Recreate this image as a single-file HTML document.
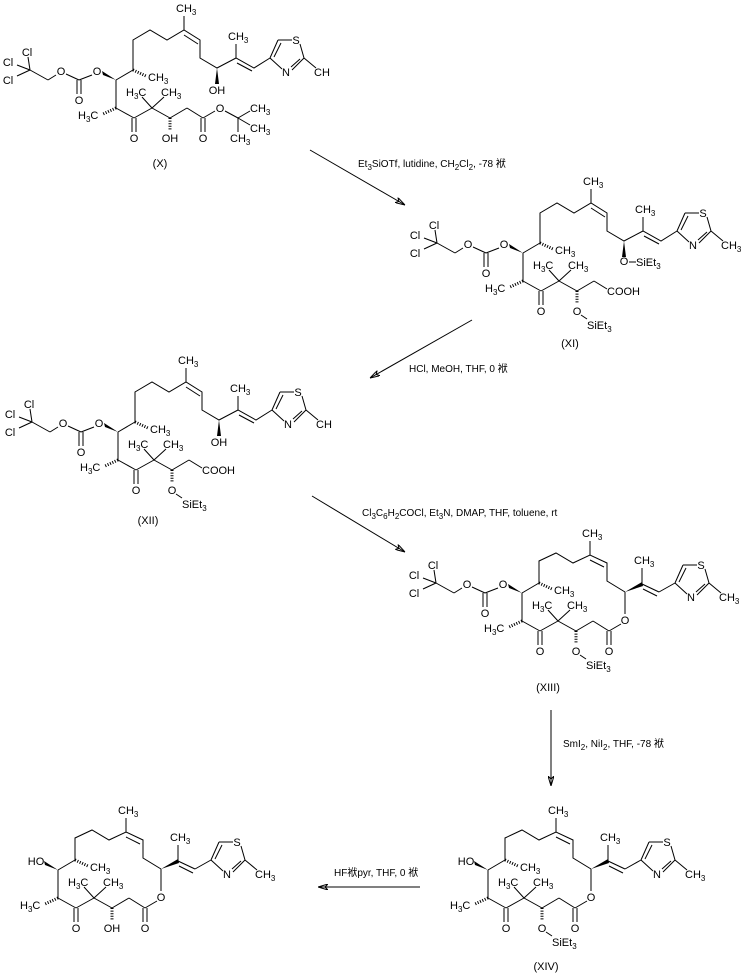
<!DOCTYPE html>
<html><head><meta charset="utf-8"><style>
html,body{margin:0;padding:0;background:#fff;}
svg{display:block;}
text{font-family:"Liberation Sans","Noto Sans CJK SC",sans-serif;font-size:11px;fill:#000;}
.s{font-size:8px;}
.r{font-size:10px;}
line,polyline,path{stroke:#000;stroke-width:1;fill:none;}
.w{fill:#000;stroke:none;}
.h{stroke-dasharray:1 1.6;stroke-width:3;}
</style></head><body>
<svg width="745" height="973" viewBox="0 0 745 973" xmlns="http://www.w3.org/2000/svg">
<defs>
<g id="thz">
 <line x1="0" y1="0" x2="8" y2="-18"/><line x1="4" y1="-1" x2="11" y2="-15"/>
 <line x1="8" y1="-18" x2="22" y2="-18"/>
 <line x1="30" y1="-14" x2="34" y2="0"/>
 <line x1="34" y1="0" x2="22" y2="12"/><line x1="30" y1="1" x2="21" y2="9"/>
 <line x1="12" y1="11" x2="0" y2="0"/>
 <line x1="34" y1="0" x2="46" y2="10"/>
</g>
<g id="lower">
 <line x1="0" y1="0" x2="0" y2="28"/><line x1="0" y1="28" x2="18" y2="38"/>
 <line x1="16" y1="38" x2="16" y2="52"/><line x1="20" y1="38" x2="20" y2="52"/>
 <line x1="18" y1="38" x2="36" y2="28"/><line x1="36" y1="28" x2="26" y2="17"/><line x1="36" y1="28" x2="48" y2="17"/>
 <line x1="36" y1="28" x2="54" y2="38"/><line x1="54" y1="38" x2="71" y2="28"/>
 <line class="h" x1="0" y1="28" x2="-13" y2="34"/>
 <line class="h" x1="54" y1="38" x2="54" y2="51"/>
 <line x1="0" y1="0" x2="17" y2="-10"/>
 <line class="h" x1="17" y1="-10" x2="30" y2="-4"/>
</g>
<g id="carb">
 <polygon class="w" points="0,0 -14,-9 -13,-5"/>
 <line x1="-24" y1="-5" x2="-37" y2="0"/>
 <line x1="-35" y1="0" x2="-35" y2="14"/><line x1="-39" y1="0" x2="-39" y2="14"/>
 <line x1="-37" y1="0" x2="-50" y2="-6"/>
 <line x1="-60" y1="-5" x2="-68" y2="0"/><line x1="-68" y1="0" x2="-86" y2="-10"/>
 <line x1="-86" y1="-10" x2="-88" y2="-23"/><line x1="-86" y1="-10" x2="-99" y2="-15"/><line x1="-86" y1="-10" x2="-99" y2="-4"/>
</g>
<g id="upopen">
 <polyline points="17,-10 17,-40 34,-50 51,-40 68,-50 84,-40 84,-22 101,-12 120,-22 138,-12 154,-22"/>
 <line x1="68" y1="-50" x2="68" y2="-64"/><line x1="68" y1="-45" x2="82" y2="-36"/>
 <line x1="120" y1="-22" x2="120" y2="-36"/><line x1="121" y1="-17" x2="136" y2="-9"/>
 <polygon class="w" points="101,-12 99,4 103,4"/>
 <use href="#thz" x="154" y="-22"/>
</g>
<g id="upmac">
 <polyline points="17,-10 17,-32 34,-40 51,-30 68,-38 85,-30 85,-12 103,-1"/>
 <line x1="68" y1="-38" x2="68" y2="-52"/><line x1="68" y1="-33" x2="82" y2="-26"/>
 <polygon class="w" points="103,-1 120,-11 121,-7"/>
 <line x1="120" y1="-9" x2="120" y2="-25"/>
 <line x1="120" y1="-9" x2="137" y2="-1"/><line x1="121" y1="-4" x2="135" y2="3"/>
 <line x1="137" y1="-1" x2="153" y2="-10"/>
 <use href="#thz" x="153" y="-10"/>
 <line x1="71" y1="28" x2="87" y2="38"/>
 <line x1="85" y1="38" x2="85" y2="52"/><line x1="89" y1="38" x2="89" y2="52"/>
 <line x1="87" y1="38" x2="99" y2="31"/>
 <line x1="103" y1="21" x2="103" y2="-1"/>
</g>
<marker id="ah" viewBox="0 0 10 6" refX="10" refY="3" markerWidth="10" markerHeight="6" orient="auto" markerUnits="userSpaceOnUse"><path d="M0,0 L10,3 L0,6 L3,3 Z" fill="#000" stroke="none"/></marker>
</defs>

<!-- X -->
<g transform="translate(116,80)">
 <use href="#lower"/><use href="#carb"/><use href="#upopen"/>
 <line x1="71" y1="28" x2="87" y2="38"/><line x1="85" y1="38" x2="85" y2="52"/><line x1="89" y1="38" x2="89" y2="52"/>
 <line x1="87" y1="38" x2="99" y2="31"/><line x1="109" y1="31" x2="122" y2="38"/>
 <line x1="122" y1="38" x2="134" y2="31"/><line x1="122" y1="38" x2="134" y2="45"/><line x1="122" y1="38" x2="122" y2="52"/>
 <text x="-19" y="-5" text-anchor="middle">O</text><text x="-37" y="24" text-anchor="middle">O</text><text x="-55" y="-5" text-anchor="middle">O</text>
 <text x="-89" y="-24" text-anchor="middle">Cl</text><text x="-108" y="-14" text-anchor="middle">Cl</text><text x="-108" y="4" text-anchor="middle">Cl</text>
 <text x="32" y="1">CH<tspan class="s" dy="3">3</tspan></text>
 <text x="-38" y="39">H<tspan class="s" dy="3">3</tspan><tspan dy="-3">C</tspan></text>
 <text x="18" y="62" text-anchor="middle">O</text>
 <text x="10" y="16">H<tspan class="s" dy="3">3</tspan><tspan dy="-3">C</tspan></text>
 <text x="45" y="16">CH<tspan class="s" dy="3">3</tspan></text>
 <text x="54" y="62" text-anchor="middle">OH</text>
 <text x="87" y="62" text-anchor="middle">O</text><text x="104" y="32" text-anchor="middle">O</text>
 <text x="134" y="32">CH<tspan class="s" dy="3">3</tspan></text><text x="134" y="52">CH<tspan class="s" dy="3">3</tspan></text><text x="114" y="62">CH<tspan class="s" dy="3">3</tspan></text>
 <text x="60" y="-68">CH<tspan class="s" dy="3">3</tspan></text>
 <text x="112" y="-40">CH<tspan class="s" dy="3">3</tspan></text>
 <text x="101" y="14" text-anchor="middle">OH</text>
 <text x="180" y="-36" text-anchor="middle">S</text><text x="170" y="-4" text-anchor="middle">N</text>
 <text x="198" y="-4">CH</text>
</g>
<text x="160" y="167" text-anchor="middle">(X)</text>

<!-- XI -->
<g transform="translate(523,253)">
 <use href="#lower"/><use href="#carb"/><use href="#upopen"/>
 <line x1="71" y1="28" x2="84" y2="36"/>
 <text x="-19" y="-5" text-anchor="middle">O</text><text x="-37" y="24" text-anchor="middle">O</text><text x="-55" y="-5" text-anchor="middle">O</text>
 <text x="-89" y="-24" text-anchor="middle">Cl</text><text x="-108" y="-14" text-anchor="middle">Cl</text><text x="-108" y="4" text-anchor="middle">Cl</text>
 <text x="32" y="1">CH<tspan class="s" dy="3">3</tspan></text>
 <text x="-38" y="39">H<tspan class="s" dy="3">3</tspan><tspan dy="-3">C</tspan></text>
 <text x="18" y="62" text-anchor="middle">O</text>
 <text x="10" y="16">H<tspan class="s" dy="3">3</tspan><tspan dy="-3">C</tspan></text>
 <text x="45" y="16">CH<tspan class="s" dy="3">3</tspan></text>
 <text x="84" y="42">COOH</text>
 <text x="54" y="62" text-anchor="middle">O</text><line x1="58" y1="62" x2="64" y2="66"/>
 <text x="64" y="76">SiEt<tspan class="s" dy="3">3</tspan></text>
 <text x="60" y="-68">CH<tspan class="s" dy="3">3</tspan></text>
 <text x="112" y="-40">CH<tspan class="s" dy="3">3</tspan></text>
 <text x="101" y="12" text-anchor="middle">O</text><line x1="106" y1="9" x2="113" y2="9"/>
 <text x="113" y="13">SiEt<tspan class="s" dy="3">3</tspan></text>
 <text x="180" y="-36" text-anchor="middle">S</text><text x="170" y="-4" text-anchor="middle">N</text>
 <text x="198" y="-4">CH<tspan class="s" dy="3">3</tspan></text>
</g>
<text x="570" y="347" text-anchor="middle">(XI)</text>

<!-- XII -->
<g transform="translate(118,432)">
 <use href="#lower"/><use href="#carb"/><use href="#upopen"/>
 <line x1="71" y1="28" x2="84" y2="36"/>
 <text x="-19" y="-5" text-anchor="middle">O</text><text x="-37" y="24" text-anchor="middle">O</text><text x="-55" y="-5" text-anchor="middle">O</text>
 <text x="-89" y="-24" text-anchor="middle">Cl</text><text x="-108" y="-14" text-anchor="middle">Cl</text><text x="-108" y="4" text-anchor="middle">Cl</text>
 <text x="32" y="1">CH<tspan class="s" dy="3">3</tspan></text>
 <text x="-38" y="39">H<tspan class="s" dy="3">3</tspan><tspan dy="-3">C</tspan></text>
 <text x="18" y="62" text-anchor="middle">O</text>
 <text x="10" y="16">H<tspan class="s" dy="3">3</tspan><tspan dy="-3">C</tspan></text>
 <text x="45" y="16">CH<tspan class="s" dy="3">3</tspan></text>
 <text x="84" y="42">COOH</text>
 <text x="54" y="62" text-anchor="middle">O</text><line x1="58" y1="62" x2="64" y2="66"/>
 <text x="64" y="76">SiEt<tspan class="s" dy="3">3</tspan></text>
 <text x="60" y="-68">CH<tspan class="s" dy="3">3</tspan></text>
 <text x="112" y="-40">CH<tspan class="s" dy="3">3</tspan></text>
 <text x="101" y="14" text-anchor="middle">OH</text>
 <text x="180" y="-36" text-anchor="middle">S</text><text x="170" y="-4" text-anchor="middle">N</text>
 <text x="198" y="-4">CH</text>
</g>
<text x="148" y="524" text-anchor="middle">(XII)</text>

<!-- XIII -->
<g transform="translate(522,593)">
 <use href="#lower"/><use href="#carb"/><use href="#upmac"/>
 <text x="-19" y="-5" text-anchor="middle">O</text><text x="-37" y="24" text-anchor="middle">O</text><text x="-55" y="-5" text-anchor="middle">O</text>
 <text x="-89" y="-24" text-anchor="middle">Cl</text><text x="-108" y="-14" text-anchor="middle">Cl</text><text x="-108" y="4" text-anchor="middle">Cl</text>
 <text x="32" y="1">CH<tspan class="s" dy="3">3</tspan></text>
 <text x="-38" y="39">H<tspan class="s" dy="3">3</tspan><tspan dy="-3">C</tspan></text>
 <text x="18" y="62" text-anchor="middle">O</text>
 <text x="10" y="16">H<tspan class="s" dy="3">3</tspan><tspan dy="-3">C</tspan></text>
 <text x="45" y="16">CH<tspan class="s" dy="3">3</tspan></text>
 <text x="54" y="62" text-anchor="middle">O</text><line x1="58" y1="62" x2="64" y2="66"/>
 <text x="64" y="76">SiEt<tspan class="s" dy="3">3</tspan></text>
 <text x="87" y="62" text-anchor="middle">O</text><text x="103" y="31" text-anchor="middle">O</text>
 <text x="60" y="-56">CH<tspan class="s" dy="3">3</tspan></text>
 <text x="112" y="-29">CH<tspan class="s" dy="3">3</tspan></text>
 <text x="179" y="-24" text-anchor="middle">S</text><text x="169" y="8" text-anchor="middle">N</text>
 <text x="197" y="8">CH<tspan class="s" dy="3">3</tspan></text>
</g>
<text x="548" y="691" text-anchor="middle">(XIII)</text>

<!-- XIV -->
<g transform="translate(488,870)">
 <use href="#lower"/><use href="#upmac"/>
 <polygon class="w" points="0,0 -14,-9 -13,-5"/>
 <text x="-22" y="-5" text-anchor="middle">HO</text>
 <text x="32" y="1">CH<tspan class="s" dy="3">3</tspan></text>
 <text x="-38" y="39">H<tspan class="s" dy="3">3</tspan><tspan dy="-3">C</tspan></text>
 <text x="18" y="62" text-anchor="middle">O</text>
 <text x="10" y="16">H<tspan class="s" dy="3">3</tspan><tspan dy="-3">C</tspan></text>
 <text x="45" y="16">CH<tspan class="s" dy="3">3</tspan></text>
 <text x="54" y="62" text-anchor="middle">O</text><line x1="58" y1="62" x2="64" y2="66"/>
 <text x="64" y="76">SiEt<tspan class="s" dy="3">3</tspan></text>
 <text x="87" y="62" text-anchor="middle">O</text><text x="103" y="31" text-anchor="middle">O</text>
 <text x="60" y="-56">CH<tspan class="s" dy="3">3</tspan></text>
 <text x="112" y="-29">CH<tspan class="s" dy="3">3</tspan></text>
 <text x="179" y="-24" text-anchor="middle">S</text><text x="169" y="8" text-anchor="middle">N</text>
 <text x="197" y="8">CH<tspan class="s" dy="3">3</tspan></text>
</g>
<text x="546" y="970" text-anchor="middle">(XIV)</text>

<!-- final -->
<g transform="translate(58,870)">
 <use href="#lower"/><use href="#upmac"/>
 <polygon class="w" points="0,0 -14,-9 -13,-5"/>
 <text x="-22" y="-5" text-anchor="middle">HO</text>
 <text x="32" y="1">CH<tspan class="s" dy="3">3</tspan></text>
 <text x="-38" y="39">H<tspan class="s" dy="3">3</tspan><tspan dy="-3">C</tspan></text>
 <text x="18" y="62" text-anchor="middle">O</text>
 <text x="10" y="16">H<tspan class="s" dy="3">3</tspan><tspan dy="-3">C</tspan></text>
 <text x="45" y="16">CH<tspan class="s" dy="3">3</tspan></text>
 <text x="54" y="62" text-anchor="middle">OH</text>
 <text x="87" y="62" text-anchor="middle">O</text><text x="103" y="31" text-anchor="middle">O</text>
 <text x="60" y="-56">CH<tspan class="s" dy="3">3</tspan></text>
 <text x="112" y="-29">CH<tspan class="s" dy="3">3</tspan></text>
 <text x="179" y="-24" text-anchor="middle">S</text><text x="169" y="8" text-anchor="middle">N</text>
 <text x="197" y="8">CH<tspan class="s" dy="3">3</tspan></text>
</g>

<!-- arrows -->
<line x1="310" y1="150" x2="405" y2="205" marker-end="url(#ah)"/>
<text class="r" x="358" y="167">Et<tspan class="s" dy="3">3</tspan><tspan dy="-3">SiOTf, lutidine, CH</tspan><tspan class="s" dy="3">2</tspan><tspan dy="-3">Cl</tspan><tspan class="s" dy="3">2</tspan><tspan dy="-3">, -78 袱</tspan></text>
<line x1="472" y1="320" x2="370" y2="378" marker-end="url(#ah)"/>
<text class="r" x="409" y="372">HCl, MeOH, THF, 0 袱</text>
<line x1="312" y1="496" x2="405" y2="552" marker-end="url(#ah)"/>
<text class="r" x="362" y="516">Cl<tspan class="s" dy="3">3</tspan><tspan dy="-3">C</tspan><tspan class="s" dy="3">6</tspan><tspan dy="-3">H</tspan><tspan class="s" dy="3">2</tspan><tspan dy="-3">COCl, Et</tspan><tspan class="s" dy="3">3</tspan><tspan dy="-3">N, DMAP, THF, toluene, rt</tspan></text>
<line x1="551" y1="710" x2="551" y2="786" marker-end="url(#ah)"/>
<text class="r" x="563" y="747">SmI<tspan class="s" dy="3">2</tspan><tspan dy="-3">, NiI</tspan><tspan class="s" dy="3">2</tspan><tspan dy="-3">, THF, -78 袱</tspan></text>
<line x1="420" y1="887" x2="318" y2="887" marker-end="url(#ah)"/>
<text class="r" x="334" y="876">HF袱pyr, THF, 0 袱</text>
</svg>
</body></html>
